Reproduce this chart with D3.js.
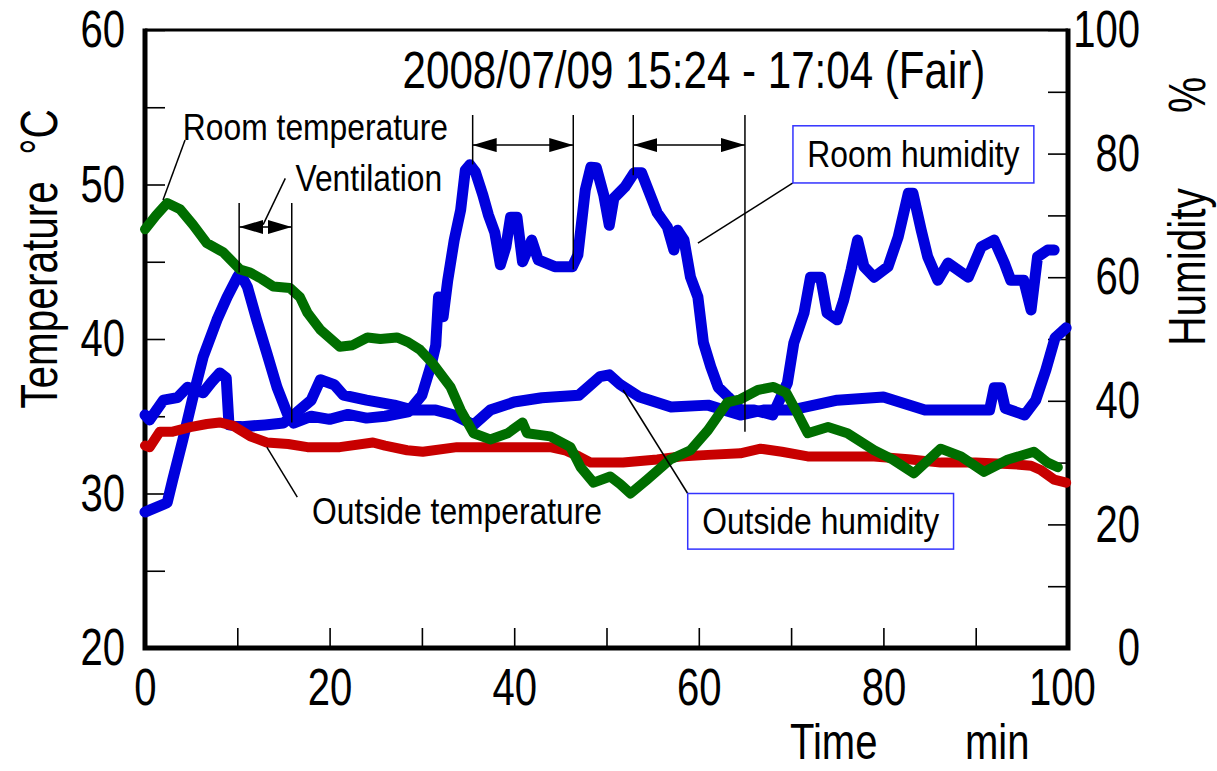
<!DOCTYPE html>
<html>
<head>
<meta charset="utf-8">
<script src="https://cdn.jsdelivr.net/npm/d3@7"></script>
<style>
  body { margin: 0; background: #fff; }
  text { font-family: "Liberation Sans", Arial, sans-serif; fill: #000; }
</style>
</head>
<body>
<div id="wrapper"></div>
<script>
// Room temperature (green, left axis)
const roomTempTime = [0, 1.2, 2.4, 3.8, 5.2, 6.7, 8.5, 10.3, 11.4, 12.6, 13.9, 15.7, 16.8, 17.6, 19.0, 21.1, 22.5, 24.1, 25.5, 27.3, 28.5, 29.8, 31.2, 33.1, 34.2, 35.6, 37.4, 39.3, 40.9, 41.4, 43.9, 46.1, 47.2, 48.6, 50.4, 51.5, 52.6, 54.4, 56.9, 59.1, 61.0, 63.1, 64.5, 66.4, 68.1, 69.5, 70.5, 71.8, 74.0, 76.1, 79.0, 81.0, 83.3, 86.2, 88.4, 90.9, 93.5, 96.3, 97.8, 98.9]
const roomTemp = [47.1, 48.0, 48.8, 48.4, 47.4, 46.2, 45.6, 44.5, 44.3, 43.9, 43.4, 43.3, 42.7, 41.7, 40.6, 39.5, 39.6, 40.1, 40.0, 40.1, 39.8, 39.3, 38.4, 36.9, 35.4, 33.9, 33.5, 33.9, 34.6, 33.9, 33.7, 33.0, 31.7, 30.7, 31.1, 30.6, 30.0, 30.9, 32.2, 32.8, 34.1, 35.9, 36.1, 36.7, 36.9, 36.5, 35.4, 33.9, 34.3, 33.9, 32.8, 32.2, 31.3, 32.9, 32.4, 31.4, 32.2, 32.7, 32.0, 31.7]

// Outside temperature (red, left axis)
const outTempTime = [0, 0.5, 1.6, 3.0, 4.9, 6.7, 8.1, 9.5, 11.4, 13.2, 15.5, 17.6, 21.1, 24.7, 26.0, 28.4, 30.1, 33.8, 37.0, 40.0, 43.9, 45.5, 47.0, 48.3, 51.8, 55.5, 58.0, 61.0, 64.5, 66.7, 69.0, 71.8, 75.0, 79.0, 83.0, 86.2, 90.0, 94.0, 96.0, 97.1, 98.5, 99.8]
const outTemp = [33.1, 33.0, 34.0, 34.0, 34.3, 34.5, 34.6, 34.4, 33.7, 33.3, 33.2, 33.0, 33.0, 33.3, 33.1, 32.8, 32.7, 33.0, 33.0, 33.0, 33.0, 32.8, 32.4, 32.0, 32.0, 32.2, 32.4, 32.5, 32.6, 32.9, 32.7, 32.4, 32.4, 32.4, 32.2, 32.0, 32.0, 31.9, 31.8, 31.5, 30.9, 30.7]

// Room humidity (blue, right axis)
const roomHumTime = [0, 0.5, 2.4, 3.0, 4.1, 5.2, 6.3, 7.8, 8.9, 10.0, 10.3, 11.1, 12.1, 13.2, 14.3, 15.4, 16.1, 18, 20, 22, 24, 26, 28.5, 30.0, 31.0, 31.5, 31.8, 32.3, 32.8, 33.5, 34.2, 34.7, 35.2, 35.8, 36.6, 37.2, 37.9, 38.5, 39.1, 39.6, 40.3, 40.9, 41.9, 42.6, 44.4, 46.3, 46.9, 47.7, 48.3, 48.9, 49.7, 50.3, 50.8, 52.0, 53.0, 53.8, 54.4, 55.5, 56.6, 57.3, 57.7, 58.4, 59.1, 59.9, 60.5, 61.3, 62.1, 63.2, 64.5, 66, 68, 69.6, 70.3, 71.4, 72.1, 73.2, 73.9, 75.0, 75.7, 76.5, 77.2, 77.9, 79.0, 80.5, 81.6, 82.7, 83.2, 84.1, 84.8, 85.9, 87.0, 89.2, 90.6, 92.0, 93.1, 93.8, 95.2, 96.0, 96.7, 97.8, 98.5]
const roomHum = [22.0, 22.3, 23.5, 27.2, 33.7, 40.6, 47.1, 53.1, 56.8, 60.0, 60.7, 58.4, 53.1, 47.7, 42.2, 38.0, 36.4, 37.5, 37.0, 37.8, 37.2, 37.5, 38.2, 40.9, 45.8, 49.0, 56.8, 53.6, 59.5, 66.0, 70.9, 77.3, 78.2, 77.0, 73.3, 70.1, 67.2, 62.0, 64.9, 69.7, 69.7, 62.5, 66.0, 62.8, 61.7, 61.7, 63.6, 74.1, 77.8, 77.7, 73.3, 68.4, 72.8, 74.6, 76.9, 76.9, 74.6, 70.4, 68.1, 64.4, 67.6, 66.0, 60.0, 56.8, 49.4, 45.5, 42.2, 40.6, 38.5, 38.5, 37.7, 42.9, 49.4, 54.2, 60.0, 60.0, 54.2, 53.1, 56.3, 61.2, 66.0, 61.7, 60.0, 61.7, 66.5, 73.6, 73.6, 67.6, 63.3, 59.5, 62.3, 60.0, 64.9, 66.0, 62.3, 59.5, 59.5, 54.7, 63.3, 64.4, 64.4]

// Outside humidity (blue, right axis)
const outHumTime = [0, 0.5, 2.0, 3.5, 4.6, 6.3, 7.2, 8.1, 8.8, 9.1, 10.5, 13, 15, 16.5, 18, 19, 20.5, 21.5, 24, 27, 29, 31.5, 33.5, 35.6, 37.4, 40, 43, 47, 49.3, 50.3, 51.5, 53.6, 57, 61, 64.5, 67, 70, 75, 80, 84.5, 88, 91.5, 92.0, 92.7, 93.2, 95.3, 96.5, 97.6, 98.6, 99.8]
const outHum = [37.7, 36.9, 40.1, 40.5, 42.2, 41.3, 43.0, 44.5, 43.7, 36.1, 35.8, 36.1, 36.4, 38.2, 40.1, 43.4, 42.6, 40.9, 40.1, 39.3, 38.5, 38.5, 37.7, 36.1, 38.5, 39.8, 40.5, 40.9, 43.9, 44.2, 42.6, 40.6, 39.0, 39.3, 37.7, 38.5, 38.5, 40.1, 40.6, 38.5, 38.5, 38.5, 42.1, 42.1, 38.8, 37.7, 40.1, 45.0, 50.2, 51.8]

// Ticks
const timeTicks = [0, 10, 20, 30, 40, 50, 60, 70, 80, 90, 100]
const tempTicks = [20, 25, 30, 35, 40, 45, 50, 55, 60]
const humTicks = [0, 10, 20, 30, 40, 50, 60, 70, 80, 90, 100]

// Ventilation periods (min) and the vertical extent of their marker lines (deg C)
const ventStart = [10.2, 35.5, 52.9]
const ventEnd = [15.9, 46.4, 65.0]
const ventTop = [48.8, 54.5, 54.5]
const ventArrow = [47.25, 52.55, 52.55]
const ventStartBottom = [44.3, 51.3, 50.6]
const ventEndBottom = [34.6, 44.5, 34.0]

const dimensions = {
    width: 1217,
    height: 771,
    margin: { top: 30, right: 149, bottom: 123, left: 145 }
}

const x0 = dimensions.margin.left
const x1 = dimensions.width - dimensions.margin.right
const y0 = dimensions.height - dimensions.margin.bottom
const y1 = dimensions.margin.top

const xScale = d3.scaleLinear().domain([0, 100]).range([x0, x1])
const yTemp = d3.scaleLinear().domain([20, 60]).range([y0, y1])
const yHum = d3.scaleLinear().domain([0, 100]).range([y0, y1])

const svg = d3.select("#wrapper")
    .append("svg")
    .attr("width", dimensions.width)
    .attr("height", dimensions.height)

// the original font is a condensed sans, so squeeze the text horizontally
const tickFont = 52
const tickSqueeze = 0.77

function squeezeAxisText(ax) {
    ax.select(".domain").remove()
    ax.selectAll("line").attr("stroke", "#000").attr("stroke-width", 1.6)
    ax.selectAll("text")
        .style("font-family", '"Liberation Sans", Arial, sans-serif')
        .style("font-size", tickFont + "px")
        .attr("fill", "#000")
        .each(function () {
            const t = d3.select(this)
            const tx = +t.attr("x") || 0
            const ty = +t.attr("y") || 0
            t.attr("x", null).attr("y", null)
                .attr("transform", `translate(${tx},${ty}) scale(${tickSqueeze},1)`)
        })
}

// axes with inward ticks
const leftAxis = svg.append("g")
    .attr("transform", `translate(${x0},0)`)
    .call(d3.axisLeft(yTemp).tickValues(tempTicks).tickSize(-20).tickPadding(20)
        .tickFormat(d => d % 10 === 0 ? d : ""))
const bottomAxis = svg.append("g")
    .attr("transform", `translate(0,${y0})`)
    .call(d3.axisBottom(xScale).tickValues(timeTicks).tickSize(-20).tickPadding(20)
        .tickFormat(d => d % 20 === 0 ? d : ""))
const rightAxis = svg.append("g")
    .attr("transform", `translate(${x1},0)`)
    .call(d3.axisRight(yHum).tickValues(humTicks).tickSize(-20).tickPadding(72)
        .tickFormat(d => d % 20 === 0 ? d : ""))
rightAxis.selectAll("text").attr("text-anchor", "end")

squeezeAxisText(leftAxis)
squeezeAxisText(bottomAxis)
squeezeAxisText(rightAxis)
// last time label sits a little inside the right spine
bottomAxis.selectAll(".tick").filter(d => d === 100).select("text").attr("dx", -8)

// frame
svg.append("line").attr("x1", x0).attr("x2", x1).attr("y1", y1).attr("y2", y1)
    .attr("stroke", "#000").attr("stroke-width", 3)
svg.append("path")
    .attr("d", `M${x0},${y1 - 1.5}V${y0}H${x1}V${y1 - 1.5}`)
    .attr("fill", "none").attr("stroke", "#000").attr("stroke-width", 5)
    .attr("stroke-linejoin", "miter")

// data lines
function drawSeries(times, values, yScale, color, width) {
    const pts = times.map((t, i) => [t, values[i]])
    svg.append("path")
        .datum(pts)
        .attr("d", d3.line().x(d => xScale(d[0])).y(d => yScale(d[1])))
        .attr("fill", "none")
        .attr("stroke", color)
        .attr("stroke-width", width)
        .attr("stroke-linejoin", "round")
        .attr("stroke-linecap", "round")
}
drawSeries(outHumTime, outHum, yHum, "#0000dd", 11)
drawSeries(roomHumTime, roomHum, yHum, "#0000dd", 11)
drawSeries(outTempTime, outTemp, yTemp, "#c80000", 10)
drawSeries(roomTempTime, roomTemp, yTemp, "#006e00", 10)

// ventilation markers
svg.append("defs").append("marker")
    .attr("id", "arrow")
    .attr("viewBox", "0 0 24 14")
    .attr("refX", 24).attr("refY", 7)
    .attr("markerWidth", 24).attr("markerHeight", 14)
    .attr("markerUnits", "userSpaceOnUse")
    .attr("orient", "auto-start-reverse")
    .append("path").attr("d", "M0,0L24,7L0,14Z").attr("fill", "#000")

ventStart.forEach((s, i) => {
    const e = ventEnd[i]
    svg.append("line")
        .attr("x1", xScale(s)).attr("x2", xScale(s))
        .attr("y1", yTemp(ventTop[i])).attr("y2", yTemp(ventStartBottom[i]))
        .attr("stroke", "#000").attr("stroke-width", 1.5)
    svg.append("line")
        .attr("x1", xScale(e)).attr("x2", xScale(e))
        .attr("y1", yTemp(ventTop[i])).attr("y2", yTemp(ventEndBottom[i]))
        .attr("stroke", "#000").attr("stroke-width", 1.5)
    svg.append("line")
        .attr("x1", xScale(s)).attr("x2", xScale(e))
        .attr("y1", yTemp(ventArrow[i])).attr("y2", yTemp(ventArrow[i]))
        .attr("stroke", "#000").attr("stroke-width", 1.5)
        .attr("marker-start", "url(#arrow)")
        .attr("marker-end", "url(#arrow)")
})

// leader lines, in data coordinates [t, degC]
const leaders = [
    [[4.34, 52.88], [1.95, 49.0]],
    [[15.2, 50.4], [12.8, 47.4]],
    [[16.5, 29.77], [13.2, 33.0]],
    [[70.2, 50.1], [59.9, 46.2]],
    [[58.8, 30.0], [51.8, 36.7]]
]
leaders.forEach(l => {
    svg.append("line")
        .attr("x1", xScale(l[0][0])).attr("y1", yTemp(l[0][1]))
        .attr("x2", xScale(l[1][0])).attr("y2", yTemp(l[1][1]))
        .attr("stroke", "#000").attr("stroke-width", 1.5)
})

// text helper: condensed by a horizontal scale
function addText(x, y, str, size, squeeze, anchor, angle) {
    return svg.append("text")
        .attr("transform", `translate(${x},${y}) rotate(${angle || 0}) scale(${squeeze},1)`)
        .attr("text-anchor", anchor || "start")
        .style("font-size", size + "px")
        .text(str)
}

const annoSize = 37
const annoSqueeze = 0.86

// boxed labels
function boxLabel(txt, tx0, tx1, ty0, ty1) {
    const bx = xScale(tx0), bw = xScale(tx1) - xScale(tx0)
    const by = yTemp(ty0), bh = yTemp(ty1) - yTemp(ty0)
    svg.append("rect").attr("x", bx).attr("y", by).attr("width", bw).attr("height", bh)
        .attr("fill", "#fff").attr("stroke", "#3333ff").attr("stroke-width", 1.5)
    addText(bx + bw / 2, by + bh / 2 + 13, txt, annoSize, annoSqueeze, "middle")
}
boxLabel("Room humidity", 70.2, 96.3, 53.8, 50.1)
boxLabel("Outside humidity", 58.8, 87.6, 30.0, 26.4)

// plain labels
addText(xScale(4.1), yTemp(52.85), "Room temperature", annoSize, annoSqueeze)
addText(xScale(16.3), yTemp(49.6), "Ventilation", annoSize, annoSqueeze)
addText(xScale(18.1), yTemp(28.0), "Outside temperature", annoSize, annoSqueeze)

addText(694, 88, "2008/07/09 15:24 - 17:04 (Fair)", 52, 0.81, "middle")

addText(790, 759, "Time", 50, 0.8)
addText(965, 759, "min", 50, 0.8)

addText(57, 295, "Temperature", 52, 0.78, "middle", -90)
addText(57, 132, "\u00b0C", 52, 0.78, "middle", -90)
addText(1205, 267, "Humidity", 52, 0.78, "middle", -90)
addText(1205, 95, "%", 52, 0.78, "middle", -90)
</script>
</body>
</html>
